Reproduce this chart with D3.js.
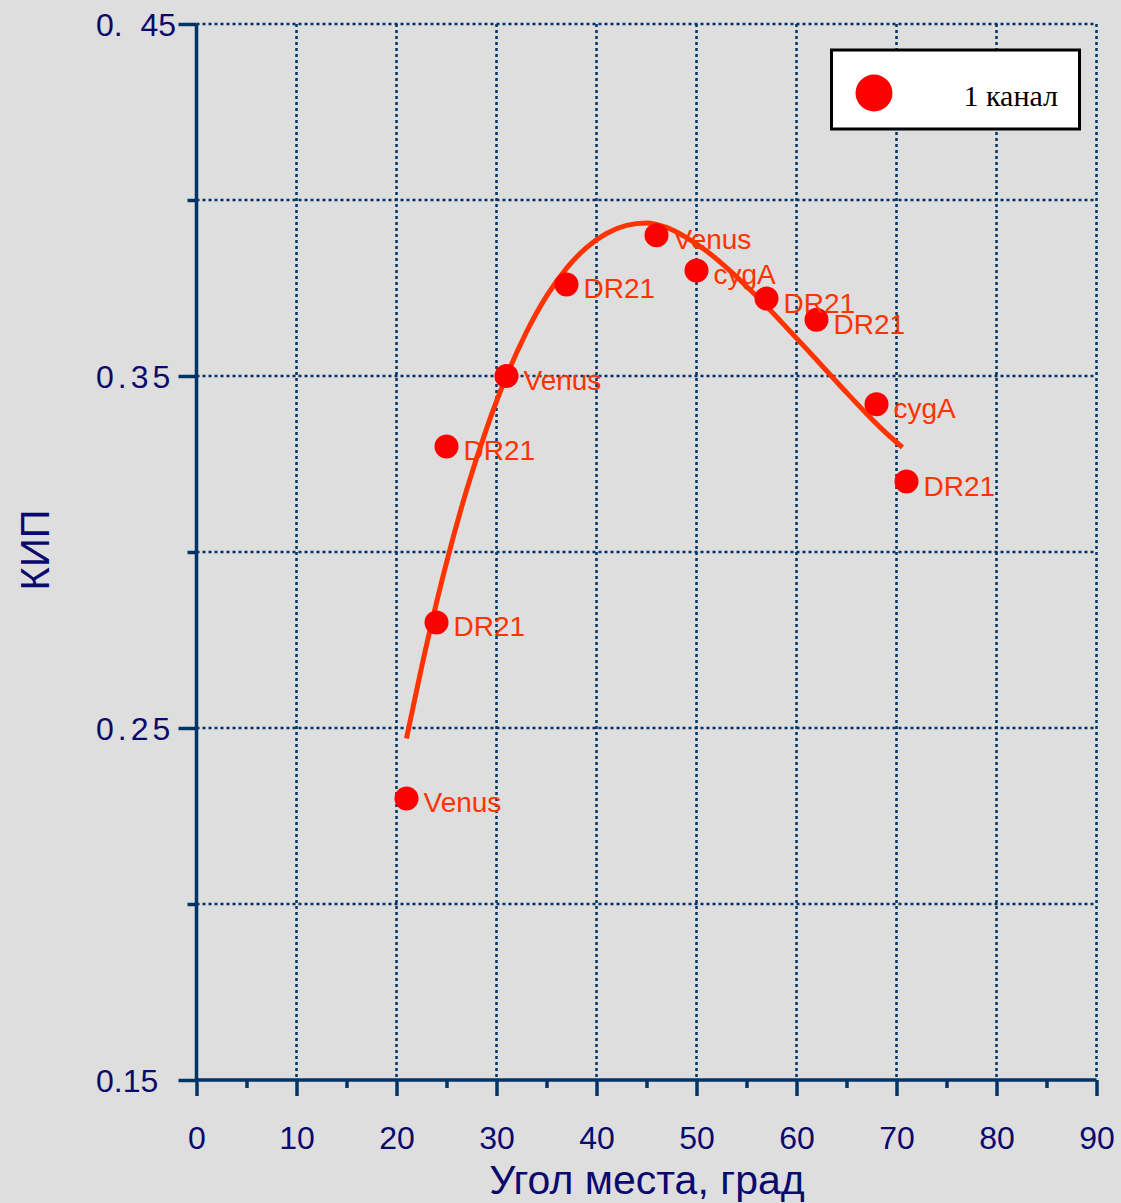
<!DOCTYPE html>
<html><head><meta charset="utf-8">
<script src="https://cdn.jsdelivr.net/npm/d3@7"></script>
<style>html,body{margin:0;padding:0;background:#dedede;}svg{display:block;}text{white-space:pre;}</style>
</head><body>
<script>
// Data
const pointX = [21, 24, 25, 31, 37, 46, 50, 57, 62, 68, 71];
const pointY = [0.230, 0.280, 0.330, 0.350, 0.376, 0.390, 0.380, 0.372, 0.366, 0.342, 0.320];
const pointLabels = ["Venus", "DR21", "DR21", "Venus", "DR21", "Venus", "cygA", "DR21", "DR21", "cygA", "DR21"];
const fitX = [21, 23, 25, 27, 29, 31, 33, 35, 37, 39, 41, 43, 45, 47, 49, 51, 53, 55, 57, 59, 61, 63, 65, 67, 69, 70.6];
const fitY = [0.247, 0.2735, 0.297, 0.3175, 0.335, 0.350, 0.3625, 0.3727, 0.3806, 0.3865, 0.3905, 0.3928, 0.3935, 0.3922, 0.3893, 0.3855, 0.3808, 0.3755, 0.3698, 0.3638, 0.3577, 0.3515, 0.3453, 0.3393, 0.3337, 0.3297];
const xTicks = [0, 10, 20, 30, 40, 50, 60, 70, 80, 90];
const xMinorTicks = [5, 15, 25, 35, 45, 55, 65, 75, 85];
const yTicks = [0.15, 0.25, 0.35, 0.45];
const yTickLabels = ["0.15", "0.25", "0.35", "0.  45"];
const yMinorTicks = [0.20, 0.30, 0.40];
const legendLabel = "1 канал";
const xTitle = "Угол места, град";
const yTitle = "КИП";

const W = 1121, H = 1203;
const axisColor = "#003366", textColor = "#0a0a6e", markColor = "#ff0000", lineColor = "#ff3300";
const sans = "Liberation Sans, Arial, sans-serif";
const svg = d3.select("body").append("svg").attr("width", W).attr("height", H);
svg.append("rect").attr("width", W).attr("height", H).attr("fill", "#dedede");

const x = d3.scaleLinear().domain([0, 90]).range([196.5, 1096.5]);
const y = d3.scaleLinear().domain([0.15, 0.45]).range([1080, 24]);

// grid
const grid = svg.append("g").attr("stroke", axisColor).attr("stroke-width", 2.5).attr("stroke-dasharray", "3,3");
xTicks.slice(1).forEach(v => grid.append("line").attr("x1", x(v)).attr("x2", x(v)).attr("y1", y(0.45)).attr("y2", y(0.15)));
yTicks.concat(yMinorTicks).filter(v => v > 0.15).forEach(v => grid.append("line").attr("x1", x(0)).attr("x2", x(90)).attr("y1", y(v)).attr("y2", y(v)));

// axes
const xAxis = d3.axisBottom(x).tickValues(xTicks).tickSize(16).tickFormat(d3.format("d"));
const gx = svg.append("g").attr("transform", `translate(0,${y(0.15)})`).call(xAxis);
const xMinor = d3.axisBottom(x).tickValues(xMinorTicks).tickSize(8).tickFormat("");
const gxm = svg.append("g").attr("transform", `translate(0,${y(0.15)})`).call(xMinor);
gxm.select(".domain").remove();
const yAxis = d3.axisLeft(y).tickValues(yTicks).tickSize(18).tickFormat((d, i) => yTickLabels[i]);
const gy = svg.append("g").attr("transform", `translate(${x(0)},0)`).call(yAxis);
const yMinor = d3.axisLeft(y).tickValues(yMinorTicks).tickSize(9).tickFormat("");
const gym = svg.append("g").attr("transform", `translate(${x(0)},0)`).call(yMinor);
gym.select(".domain").remove();
[gx, gxm, gy, gym].forEach(g => {
  g.selectAll(".domain").attr("stroke", axisColor).attr("stroke-width", 3.5).attr("d", function(){
    return g === gx ? `M${x(0)},0H${x(90)}` : `M0,${y(0.15)}V${y(0.45)}`;
  });
  g.selectAll(".tick line").attr("stroke", axisColor).attr("stroke-width", 3.5);
  g.selectAll(".tick text").attr("fill", textColor).attr("font-family", sans).attr("font-size", 32);
});
gx.selectAll(".tick text").attr("dy", null).attr("y", 69);
gy.selectAll(".tick text").attr("text-anchor", "start").attr("x", 96 - x(0)).attr("dy", "0.36em")
  .attr("letter-spacing", (d, i) => (i === 1 || i === 2) ? 4 : 0);

// fit curve
const fitData = fitX.map((v, i) => [v, fitY[i]]);
svg.append("path").datum(fitData)
  .attr("d", d3.line().x(d => x(d[0])).y(d => y(d[1])).curve(d3.curveMonotoneX))
  .attr("fill", "none").attr("stroke", lineColor).attr("stroke-width", 5);

// points
const pts = pointX.map((v, i) => ({x: v, y: pointY[i], label: pointLabels[i]}));
svg.append("g").selectAll("circle").data(pts).join("circle")
  .attr("cx", d => x(d.x)).attr("cy", d => y(d.y)).attr("r", 12).attr("fill", markColor);
svg.append("g").selectAll("text").data(pts).join("text")
  .attr("x", d => x(d.x) + 17).attr("y", d => y(d.y) + 14)
  .attr("fill", lineColor).attr("font-family", sans).attr("font-size", 28)
  .text(d => d.label);

// legend
const lg = svg.append("g");
lg.append("rect").attr("x", 831.5).attr("y", 50).attr("width", 248).attr("height", 79)
  .attr("fill", "#ffffff").attr("stroke", "#000000").attr("stroke-width", 3);
lg.append("circle").attr("cx", 874).attr("cy", 93).attr("r", 18.5).attr("fill", markColor);
lg.append("text").attr("x", 1058).attr("y", 106).attr("text-anchor", "end")
  .attr("font-family", "Liberation Serif, Times New Roman, serif").attr("font-size", 30).attr("fill", "#000")
  .text(legendLabel);

// titles
svg.append("text").attr("x", 647).attr("y", 1194).attr("text-anchor", "middle")
  .attr("font-family", sans).attr("font-size", 41).attr("fill", textColor)
  .text(xTitle);
svg.append("text").attr("transform", "translate(49,550) rotate(-90)").attr("text-anchor", "middle")
  .attr("font-family", sans).attr("font-size", 40).attr("fill", textColor)
  .text(yTitle);
</script>
</body></html>
